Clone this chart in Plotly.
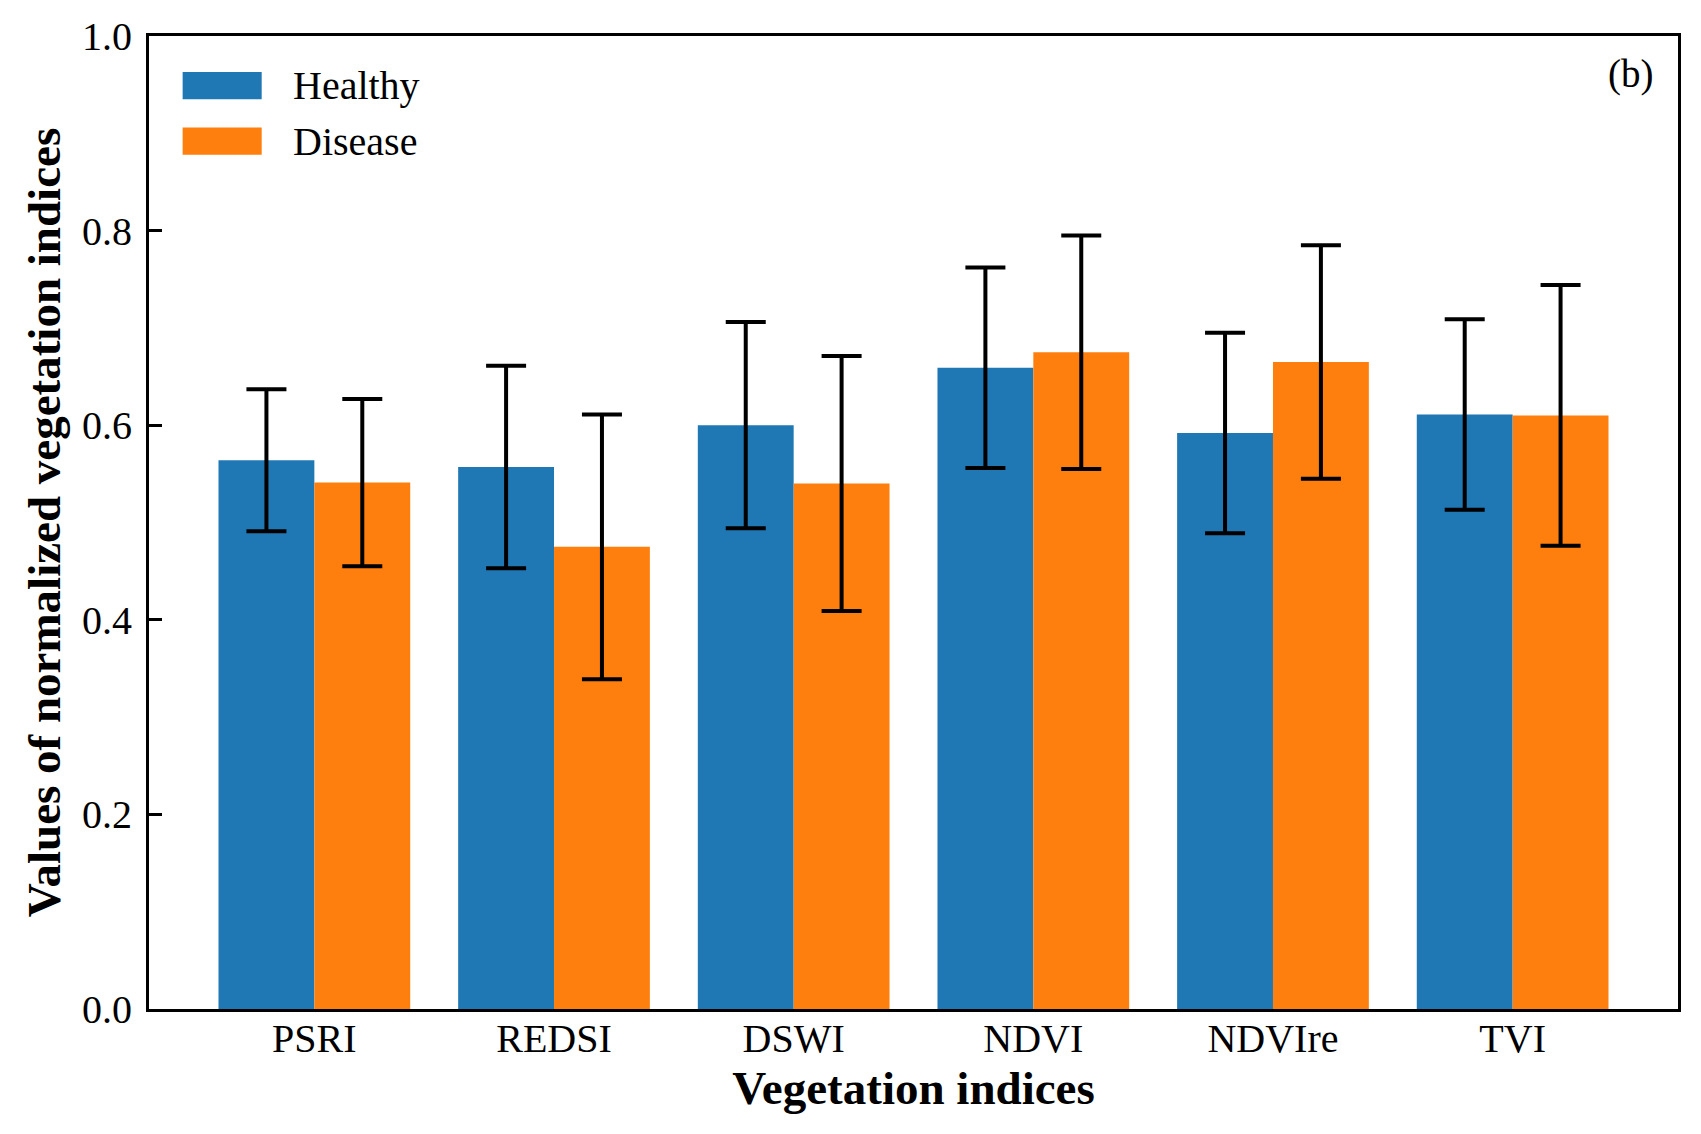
import plotly.graph_objects as go

categories = ["PSRI", "REDSI", "DSWI", "NDVI", "NDVIre", "TVI"]
healthy = [0.564, 0.557, 0.600, 0.659, 0.592, 0.611]
healthy_err = [0.073, 0.104, 0.106, 0.103, 0.103, 0.098]
disease = [0.541, 0.475, 0.540, 0.675, 0.665, 0.610]
disease_err = [0.086, 0.136, 0.131, 0.120, 0.120, 0.134]
y_ticks = [0.0, 0.2, 0.4, 0.6, 0.8, 1.0]

series_names = ["Healthy", "Disease"]
colors = ["#1f77b4", "#ff7f0e"]
FONT = "Liberation Serif, Times New Roman, serif"

fig = go.Figure()
for name, vals, errs, col in zip(series_names, [healthy, disease], [healthy_err, disease_err], colors):
    fig.add_trace(go.Bar(
        x=categories, y=vals, name=name,
        marker=dict(color=col, line=dict(width=0)),
        error_y=dict(type="data", array=errs, color="black", thickness=4, width=20, visible=True),
        showlegend=False,
    ))

# legend drawn as swatches + labels (paper coords)
legend_rows = [(0.963, 0.935), (0.906, 0.878)]
for (y1, y0), name, col in zip(legend_rows, series_names, colors):
    fig.add_shape(type="rect", xref="paper", yref="paper", x0=0.022, x1=0.0737, y0=y0, y1=y1,
                  fillcolor=col, line=dict(width=0))
    fig.add_annotation(xref="paper", yref="paper", x=0.093, y=(y0 + y1) / 2, text=name,
                       showarrow=False, xanchor="left", yanchor="middle",
                       font=dict(family=FONT, size=40, color="black"))

fig.add_annotation(xref="paper", yref="paper", x=0.969, y=0.961, text="(b)", showarrow=False,
                   xanchor="center", yanchor="middle", font=dict(family=FONT, size=39, color="black"))

fig.update_layout(
    width=1701, height=1134,
    margin=dict(l=141, r=31, t=28, b=133, pad=0),
    paper_bgcolor="white", plot_bgcolor="white",
    barmode="group", bargap=0.2, bargroupgap=0,
    font=dict(family=FONT, color="black"),
)
fig.update_xaxes(
    range=[-0.69, 5.69], showline=True, linewidth=3, linecolor="black", mirror=True,
    ticks="", showgrid=False, zeroline=False, automargin=False,
    tickfont=dict(family=FONT, size=40, color="black"), ticklabelstandoff=-8,
    title=dict(text="<b>Vegetation indices</b>", font=dict(family=FONT, size=47, color="black"), standoff=12),
)
fig.update_yaxes(
    range=[0, 1.0], tickvals=y_ticks, tickformat=".1f",
    showline=True, linewidth=3, linecolor="black", mirror=True,
    ticks="inside", ticklen=13, tickwidth=3, tickcolor="black", showgrid=False, zeroline=False,
    automargin=False, ticklabeloverflow="allow",
    tickfont=dict(family=FONT, size=40, color="black"), ticklabelstandoff=6,
    title=dict(text="<b>Values of normalized vegetation indices</b>", font=dict(family=FONT, size=47, color="black"), standoff=7),
)

fig.write_html("out.html")
